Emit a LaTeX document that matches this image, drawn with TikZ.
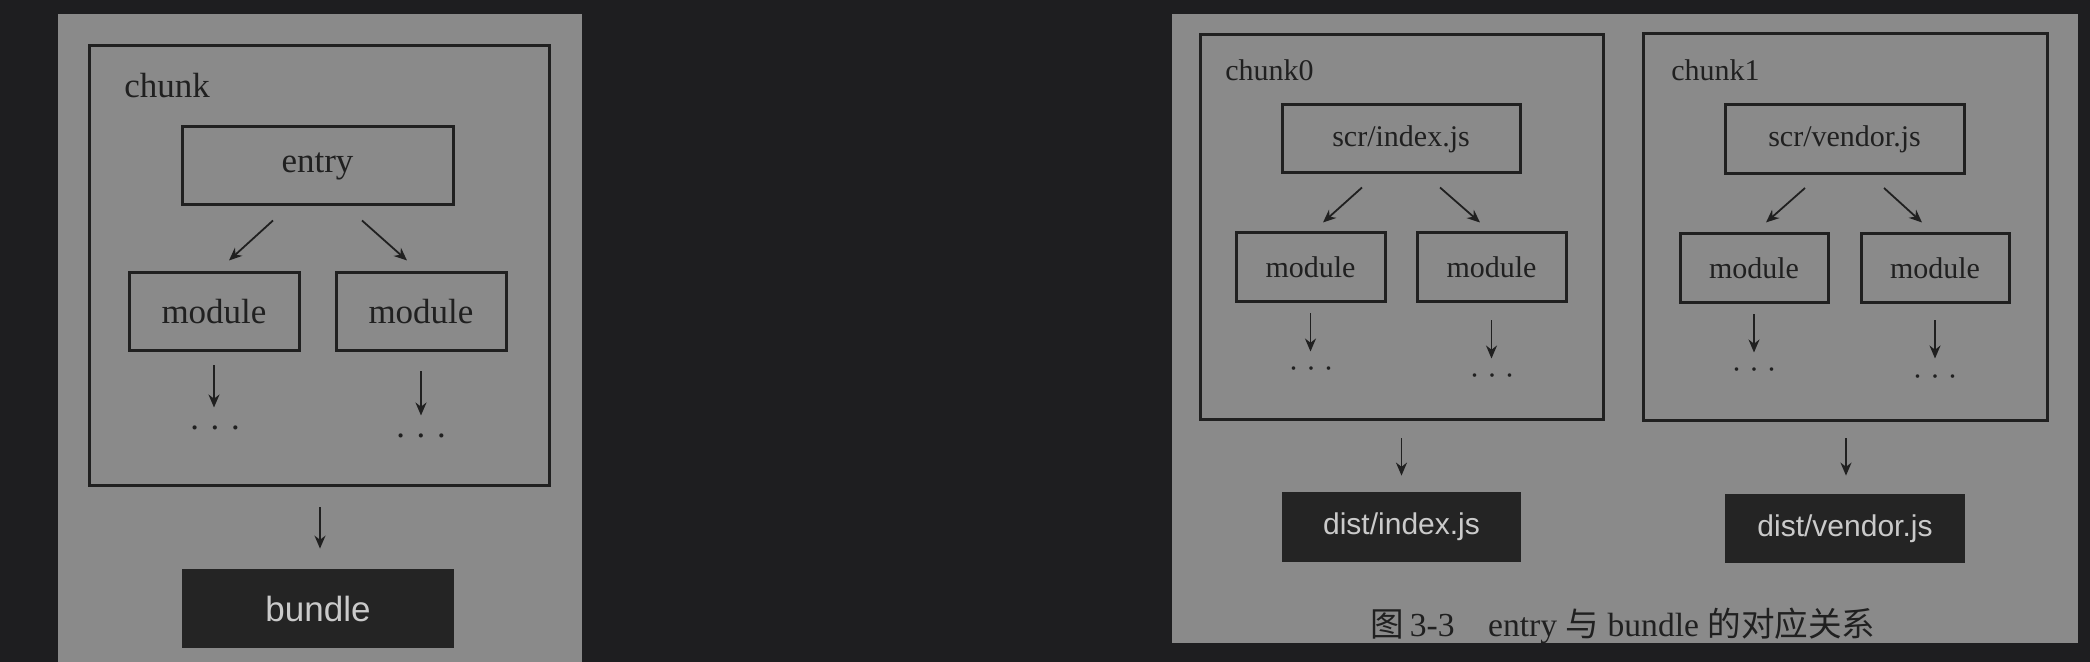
\documentclass[tikz,border=0pt]{standalone}
\usepackage{fontspec}
\setmainfont{Liberation Serif}
\newfontfamily\sansfont{Liberation Sans}
\newfontfamily\cjk{Noto Sans CJK SC}
\usetikzlibrary{arrows.meta}
\definecolor{screen}{RGB}{30,30,32}
\definecolor{paper}{RGB}{138,138,138}
\definecolor{ink}{RGB}{32,32,32}
\definecolor{inkfill}{RGB}{36,36,36}
\definecolor{inklight}{RGB}{202,202,202}
\newcommand{\px}{0.5pt}
\newcommand{\bigtext}{\fontsize{17.5}{20}\selectfont}
\newcommand{\smalltext}{\fontsize{15}{18}\selectfont}
\tikzset{
    frame/.style={draw=ink, line width=1.5pt, rectangle, inner sep=0pt},
    chunkbox/.style={frame},
    file/.style={frame, text=ink},
    bundlebox/.style={rectangle, inner sep=0pt, fill=inkfill, text=inklight},
    chunklabel/.style={anchor=west, text=ink, inner sep=0pt},
    more/.style={text=ink, inner sep=0pt},
    arr/.style={-{Stealth[length=6.5pt, width=5.5pt]}, draw=ink, line width=0.9pt}
}

\begin{document}
\begin{tikzpicture}[x=\px, y=-\px]
    \fill[screen] (0,0) rectangle (2090,662);
    \useasboundingbox (0,0) rectangle (2090,662);
    \fill[paper] (58,14) rectangle (582,662);
    \fill[paper] (1172,14) rectangle (2078,643);

    % left: one chunk, one bundle
    \begin{scope}[every node/.append style={font=\bigtext}]
        \node[chunkbox, minimum width=460*\px, minimum height=440*\px] (chunk) at (319,266) {};
        \node[chunklabel] (chunk-label) at (124,86) {chunk};
        \node[file, minimum width=271*\px, minimum height=78*\px] (entry) at (317.5,166) {entry};
        \node[file, minimum width=170*\px, minimum height=78*\px] (mod-left) at (214,312) {module};
        \node[file, minimum width=170*\px, minimum height=78*\px] (mod-right) at (421,312) {module};
        \node[more] (more-left) at (215,433) {· · ·};
        \node[more] (more-right) at (421,441) {· · ·};
        \node[bundlebox, font=\sansfont\bigtext, minimum width=272*\px, minimum height=79*\px] (bundle) at (318,608.5) {bundle};
    \end{scope}

    \draw[arr] ([shift={(-44.5,14)}]entry.south) -- ([shift={(15,-11)}]mod-left.north);
    \draw[arr] ([shift={(44.5,14)}]entry.south) -- ([shift={(-14,-11)}]mod-right.north);
    \draw[arr] ([yshift=-13*\px]mod-left.south) -- ([yshift=-55*\px]mod-left.south);
    \draw[arr] ([yshift=-19*\px]mod-right.south) -- ([yshift=-63*\px]mod-right.south);
    \draw[arr] ([shift={(1,20)}]chunk.south) -- ([shift={(2,-20)}]bundle.north);

    % right: two chunks, two bundles
    \begin{scope}[every node/.append style={font=\smalltext}]
        \node[chunkbox, minimum width=403*\px, minimum height=385*\px] (chunk0) at (1401.5,227.5) {};
        \node[chunklabel] (chunk0-label) at (1225,70) {chunk0};
        \node[file, minimum width=238*\px, minimum height=68*\px] (src-index) at (1401,139) {scr/index.js};
        \node[file, minimum width=149*\px, minimum height=69*\px] (mod0-left) at (1310.5,267.5) {module};
        \node[file, minimum width=149*\px, minimum height=69*\px] (mod0-right) at (1491.5,267.5) {module};
        \node[more] (more0-left) at (1311,373) {· · ·};
        \node[more] (more0-right) at (1492,380) {· · ·};
        \node[bundlebox, font=\sansfont\smalltext, minimum width=239*\px, minimum height=70*\px] (dist-index) at (1401.5,527) {dist/index.js};

        \node[chunkbox, minimum width=404*\px, minimum height=387*\px] (chunk1) at (1845,227.5) {};
        \node[chunklabel] (chunk1-label) at (1671,70) {chunk1};
        \node[file, minimum width=239*\px, minimum height=69*\px] (src-vendor) at (1844.5,139.5) {scr/vendor.js};
        \node[file, minimum width=148*\px, minimum height=69*\px] (mod1-left) at (1754,268.5) {module};
        \node[file, minimum width=148*\px, minimum height=69*\px] (mod1-right) at (1935,268.5) {module};
        \node[more] (more1-left) at (1754,374) {· · ·};
        \node[more] (more1-right) at (1935,381) {· · ·};
        \node[bundlebox, font=\sansfont\smalltext, minimum width=240*\px, minimum height=69*\px] (dist-vendor) at (1845,528.5) {dist/vendor.js};

        \node[text=ink, font=\fontsize{16.8}{19}\selectfont] (caption) at (1623,626) {{\cjk 图}\,3-3\quad entry {\cjk 与} bundle {\cjk 的对应关系}};
    \end{scope}

    \draw[arr] ([shift={(-39,13)}]src-index.south) -- ([shift={(12.5,-9)}]mod0-left.north);
    \draw[arr] ([shift={(39,13)}]src-index.south) -- ([shift={(-11.5,-9)}]mod0-right.north);
    \draw[arr] ([yshift=-10*\px]mod0-left.south) -- ([yshift=-48*\px]mod0-left.south);
    \draw[arr] ([yshift=-17*\px]mod0-right.south) -- ([yshift=-55*\px]mod0-right.south);
    \draw[arr] ([yshift=-17*\px]chunk0.south) -- ([yshift=16*\px]dist-index.north);

    \draw[arr] ([shift={(-39.5,12.5)}]src-vendor.south) -- ([shift={(12,-10)}]mod1-left.north);
    \draw[arr] ([shift={(39.5,12.5)}]src-vendor.south) -- ([shift={(-13,-10)}]mod1-right.north);
    \draw[arr] ([yshift=-10*\px]mod1-left.south) -- ([yshift=-48*\px]mod1-left.south);
    \draw[arr] ([yshift=-16*\px]mod1-right.south) -- ([yshift=-54*\px]mod1-right.south);
    \draw[arr] ([shift={(1,16)}]chunk1.south) -- ([shift={(1,-18)}]dist-vendor.north);
\end{tikzpicture}
\end{document}
